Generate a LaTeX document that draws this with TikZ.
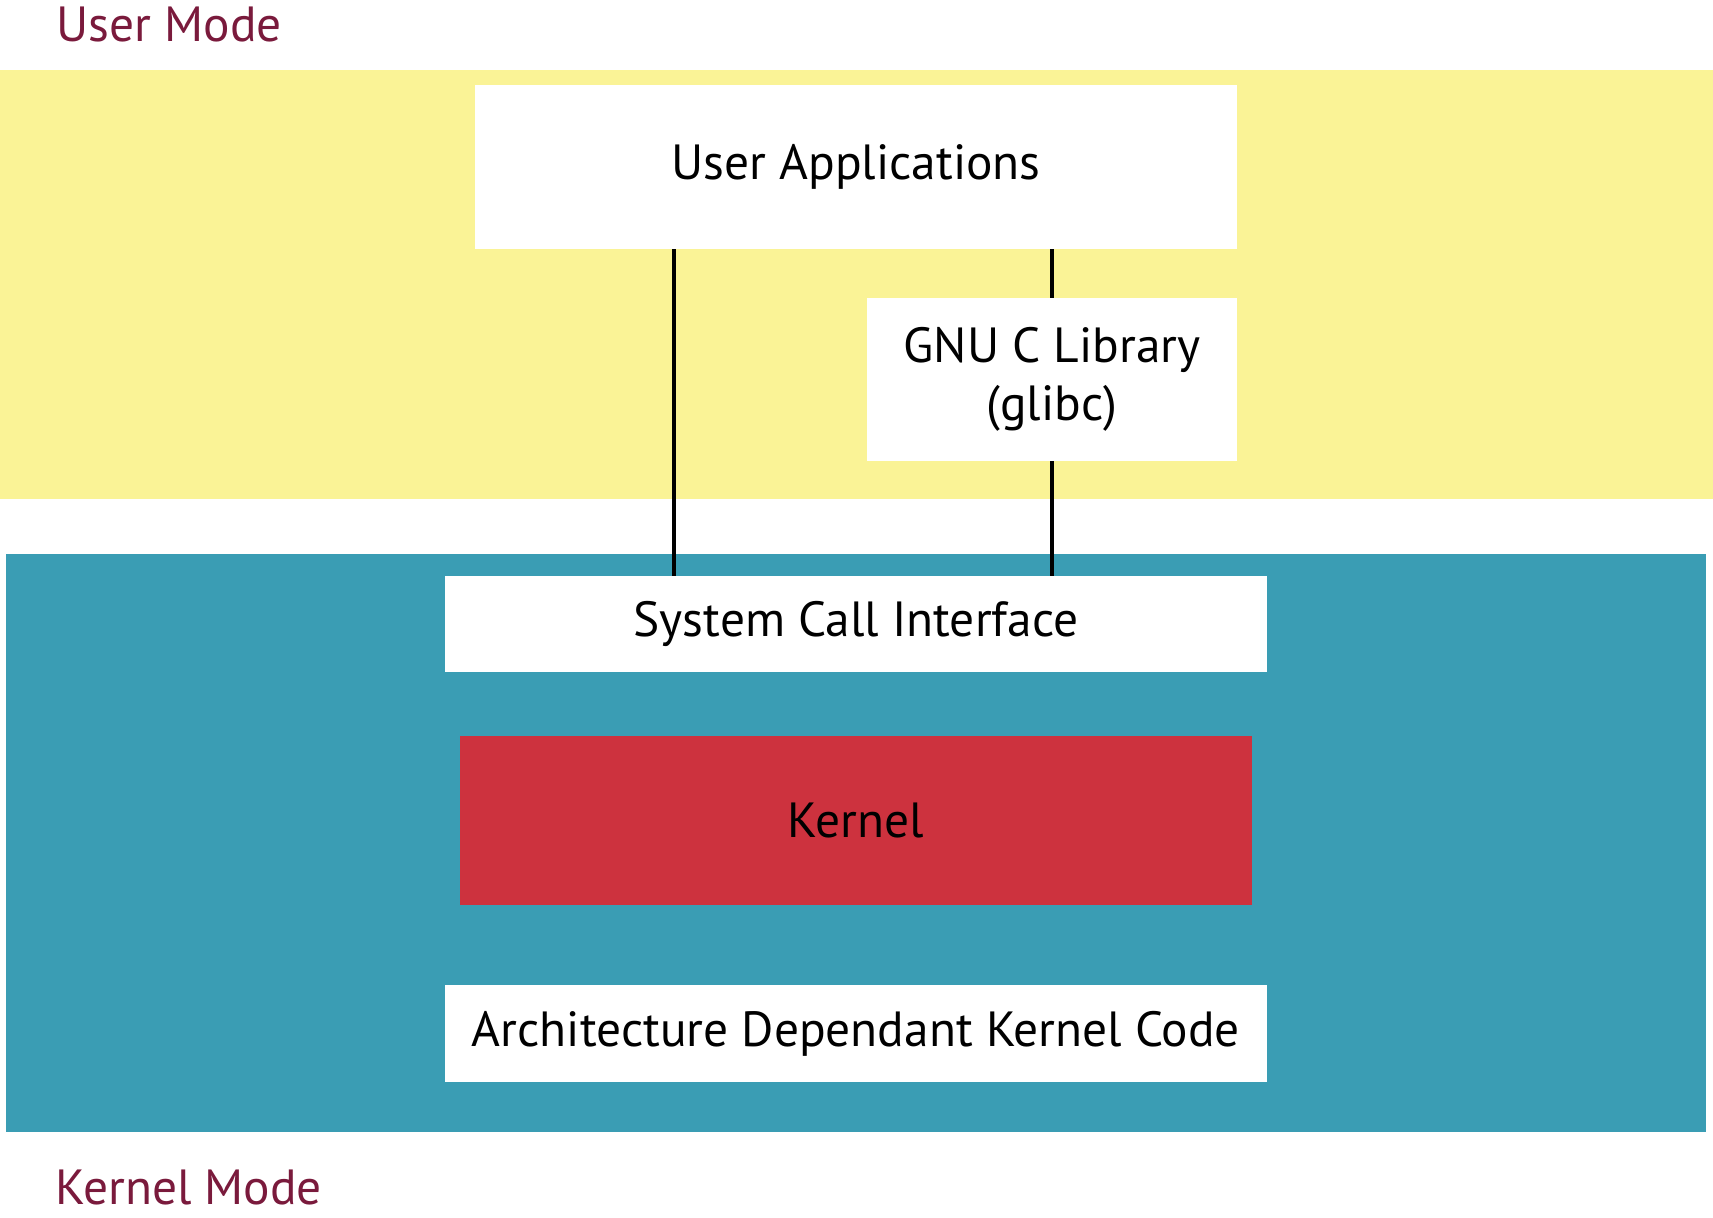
\documentclass[tikz,border=0pt]{standalone}
\usepackage{fontspec}
\setmainfont{PT Sans}
\definecolor{modetext}{HTML}{7A1A3C}
\definecolor{userbg}{HTML}{FAF396}
\definecolor{kernbg}{HTML}{3A9DB4}
\definecolor{kernred}{HTML}{CD323E}
\begin{document}
\begin{tikzpicture}[x=0.5pt,y=-0.5pt,
  box/.style={fill=white,draw=none,inner sep=0pt,align=center,
    font=\fontsize{24.7}{29}\selectfont},
  band/.style={draw=none,inner sep=0pt},
  modelabel/.style={anchor=base west,inner sep=0pt,text=modetext,
    font=\fontsize{24.7}{29}\selectfont},
  conn/.style={draw=black,line width=2pt}]
\useasboundingbox (0,0) rectangle (1713,1218);
\fill[white] (0,0) rectangle (1713,1218);
% bands
\node[band,fill=userbg,minimum width=1713*0.5pt,minimum height=429*0.5pt] (userband) at (856.5,284.5) {};
\node[band,fill=kernbg,minimum width=1700*0.5pt,minimum height=578*0.5pt] (kernband) at (856,843) {};
% boxes
\node[box,minimum width=762*0.5pt,minimum height=164*0.5pt] (ua) at (856,167) {User Applications};
\node[box,minimum width=370*0.5pt,minimum height=163*0.5pt] (glibc) at (1052,379.5) {GNU C Library\\(glibc)};
\node[box,minimum width=822*0.5pt,minimum height=96*0.5pt] (sci) at (856,624) {System Call Interface};
\node[box,fill=kernred,minimum width=792*0.5pt,minimum height=169*0.5pt] (kernel) at (856,820.5) {Kernel};
\node[box,minimum width=822*0.5pt,minimum height=97*0.5pt] (arch) at (856,1033.5) {Architecture Dependant Kernel Code};
% mode labels
\node[modelabel] (um) at (56,42) {User Mode};
\node[modelabel] (km) at (55,1204) {Kernel Mode};
% connectors
\coordinate (lineA) at (674,0);
\draw[conn] (ua.south -| lineA) -- (sci.north -| lineA);
\draw[conn] (ua.south -| glibc.north) -- (glibc.north);
\draw[conn] (glibc.south) -- (sci.north -| glibc.south);
\end{tikzpicture}
\end{document}
